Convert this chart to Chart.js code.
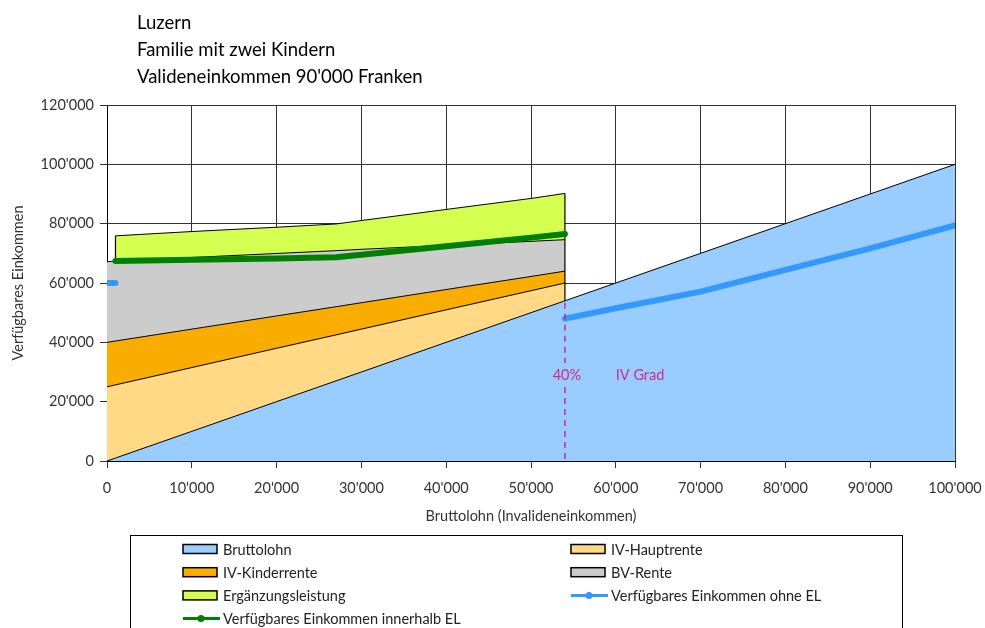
<!DOCTYPE html>
<html>
<head>
<meta charset="utf-8">
<script src="https://cdn.jsdelivr.net/npm/chart.js@4.4.0/dist/chart.umd.min.js"></script>
<style>
  body { margin: 0; background: #fff; }
  #wrap { width: 985px; height: 628px; }
</style>
</head>
<body>
<div id="wrap"><canvas id="chart" width="985" height="628"></canvas></div>
<script>
// ===== Daten =====
const titel = ['Luzern', 'Familie mit zwei Kindern', "Valideneinkommen 90'000 Franken"];
const einkommen = [0, 1000, 10000, 20000, 27000, 30000, 40000, 50000, 54000, 60000, 70000, 80000, 90000, 100000];
const bruttolohn = [0, 1000, 10000, 20000, 27000, 30000, 40000, 50000, 54000, 60000, 70000, 80000, 90000, 100000];
const ivHauptrente = [25000, 24650, 21500, 18000, 15500, 14450, 10950, 7400, 6000];
const ivKinderrente = [15000, 14800, 12950, 10900, 9500, 8900, 6850, 4800, 4000];
const bvRente = [27200, 26900, 24150, 21050, 18900, 18000, 14900, 11850, 10600];
const ergaenzung = [null, 8550, 8750, 8850, 9000, 9700, 12100, 14450, 15600];
const ohneEL = [60000, 60000, null, null, null, null, null, null, 48000, 51500, 57100, 64400, 71700, 79400];
const innerhalbEL = [null, 67400, 67800, 68300, 68700, 69500, 72400, 75300, 76500];
const ivGrad = 54000; // 40% IV Grad

const FONT = 'Lato, "Open Sans", sans-serif';
const fmt = v => String(v).replace(/\B(?=(\d{3})+(?!\d))/g, "'");

// Stapel aufsummieren (Oberkante jeder Fläche)
function stack(base, add) {
    return add.map((v, i) => (v === null || base[i] === null) ? null : base[i] + v);
}
let topBrutto = bruttolohn.slice();
let topHaupt = stack(topBrutto, ivHauptrente);
let topKinder = stack(topHaupt, ivKinderrente);
let topBV = stack(topKinder, bvRente);
let topEL = stack(topBV, ergaenzung);

const pts = arr => arr.map((y, i) => ({ x: einkommen[i], y: y }));

function area(label, data, color, fill) {
    return {
        label: label, data: pts(data), backgroundColor: color, borderColor: '#000',
        borderWidth: 1, fill: fill, pointRadius: 0, tension: 0, order: 1, kind: 'area'
    };
}
function linie(label, data, color) {
    return {
        label: label, data: pts(data), borderColor: color, backgroundColor: color,
        borderWidth: 6, borderCapStyle: 'round', borderJoinStyle: 'round',
        fill: false, pointRadius: 0, spanGaps: false, order: 0, kind: 'line'
    };
}

// ===== Plugins =====
const titlePlugin = {
    id: 'titel',
    afterDraw(chart) {
        let ctx = chart.ctx;
        ctx.save();
        ctx.fillStyle = '#000';
        ctx.font = '18.5px ' + FONT;
        ctx.textBaseline = 'alphabetic';
        titel.forEach((t, i) => ctx.fillText(t, 137, 29 + i * 27.2));
        ctx.restore();
    }
};

// senkrechte Kanten der Flächen
const edgePlugin = {
    id: 'kanten',
    afterDatasetDraw(chart, args) {
        if (args.index !== 0) return;
        let ctx = chart.ctx, x = chart.scales.x, y = chart.scales.y;
        let last = ivHauptrente.length - 1;
        ctx.save();
        ctx.strokeStyle = '#000';
        ctx.lineWidth = 1.2;
        ctx.beginPath();
        ctx.moveTo(x.getPixelForValue(einkommen[last]), y.getPixelForValue(topEL[last]));
        ctx.lineTo(x.getPixelForValue(einkommen[last]), y.getPixelForValue(bruttolohn[last]));
        let first = ergaenzung.findIndex(v => v !== null);
        ctx.moveTo(x.getPixelForValue(einkommen[first]), y.getPixelForValue(topEL[first]));
        ctx.lineTo(x.getPixelForValue(einkommen[first]), y.getPixelForValue(topBV[first]));
        ctx.stroke();
        ctx.restore();
    }
};

const gradPlugin = {
    id: 'ivgrad',
    afterDatasetsDraw(chart) {
        let ctx = chart.ctx, x = chart.scales.x, y = chart.scales.y;
        let px = x.getPixelForValue(ivGrad);
        let ty = y.getPixelForValue(29000);
        ctx.save();
        ctx.strokeStyle = '#D4288C';
        ctx.lineWidth = 1.5;
        ctx.setLineDash([6, 5]);
        ctx.beginPath();
        ctx.moveTo(px, y.getPixelForValue(ivGrad) + 2);
        ctx.lineTo(px, ty - 12);
        ctx.moveTo(px, ty + 12);
        ctx.lineTo(px, y.getPixelForValue(0));
        ctx.stroke();
        ctx.setLineDash([]);
        ctx.fillStyle = '#D4288C';
        ctx.font = '14.5px ' + FONT;
        ctx.textBaseline = 'middle';
        ctx.textAlign = 'center';
        ctx.fillText('40%', px + 2, ty);
        ctx.textAlign = 'left';
        ctx.fillText('IV Grad', x.getPixelForValue(60000), ty);
        ctx.restore();
    }
};

const legendPlugin = {
    id: 'legende',
    afterDraw(chart) {
        let ctx = chart.ctx;
        ctx.save();
        ctx.strokeStyle = '#000';
        ctx.lineWidth = 1;
        ctx.strokeRect(130.5, 535.5, 772, 110);
        let cols = [183, 571];
        ctx.font = '14.5px ' + FONT;
        ctx.textBaseline = 'middle';
        chart.data.datasets.forEach((ds, i) => {
            let cx = cols[i % 2];
            let cy = 549 + Math.floor(i / 2) * 23.2;
            if (ds.kind === 'area') {
                ctx.fillStyle = ds.backgroundColor;
                ctx.fillRect(cx, cy - 4.5, 34, 9);
                ctx.lineWidth = 1.5;
                ctx.strokeStyle = '#000';
                ctx.strokeRect(cx, cy - 4.5, 34, 9);
            } else {
                ctx.strokeStyle = ds.borderColor;
                ctx.lineWidth = 3;
                ctx.beginPath();
                ctx.moveTo(cx, cy);
                ctx.lineTo(cx + 37, cy);
                ctx.stroke();
                ctx.fillStyle = ds.borderColor;
                ctx.beginPath();
                ctx.arc(cx + 18, cy, 3.5, 0, Math.PI * 2);
                ctx.fill();
            }
            ctx.fillStyle = '#222';
            ctx.fillText(ds.label, cx + 40, cy + 1);
        });
        ctx.restore();
    }
};

// ===== Chart =====
new Chart(document.getElementById('chart'), {
    type: 'line',
    data: {
        datasets: [
            area('Bruttolohn', topBrutto, '#99CCFF', 'origin'),
            area('IV-Hauptrente', topHaupt, '#FFD985', '-1'),
            area('IV-Kinderrente', topKinder, '#F8AD00', '-1'),
            area('BV-Rente', topBV, '#CCCCCC', '-1'),
            area('Ergänzungsleistung', topEL, '#D4FF50', '-1'),
            linie('Verfügbares Einkommen ohne EL', ohneEL, '#3399FF'),
            linie('Verfügbares Einkommen innerhalb EL', innerhalbEL, '#008000')
        ]
    },
    options: {
        responsive: false,
        animation: false,
        devicePixelRatio: 1,
        layout: { padding: { top: 105, right: 30, bottom: 97, left: 0 } },
        plugins: { legend: { display: false }, tooltip: { enabled: false } },
        scales: {
            x: {
                type: 'linear', min: 0, max: 100000,
                afterFit: s => { s.height = 70; s.paddingLeft = 0; s.paddingRight = 0; },
                ticks: { stepSize: 10000, callback: v => fmt(v), color: '#333', padding: 12,
                         maxRotation: 0, font: { family: FONT, size: 14.5 } },
                grid: { color: '#333', lineWidth: 1, tickLength: 7 },
                border: { color: '#000', width: 1 },
                title: { display: true, text: 'Bruttolohn (Invalideneinkommen)', color: '#333',
                         font: { family: FONT, size: 14.5 }, padding: { top: 0, bottom: 6 } }
            },
            y: {
                min: 0, max: 120000,
                afterFit: s => { s.width = 107; s.paddingTop = 0; s.paddingBottom = 0; },
                ticks: { stepSize: 20000, callback: v => fmt(v), color: '#333', padding: 6,
                         font: { family: FONT, size: 14.5 } },
                grid: { color: '#333', lineWidth: 1, tickLength: 7 },
                border: { color: '#000', width: 1 },
                title: { display: true, text: 'Verfügbares Einkommen', color: '#333',
                         font: { family: FONT, size: 14.5 }, padding: { top: 10, bottom: 0 } }
            }
        }
    },
    plugins: [titlePlugin, edgePlugin, gradPlugin, legendPlugin]
});
</script>
</body>
</html>
